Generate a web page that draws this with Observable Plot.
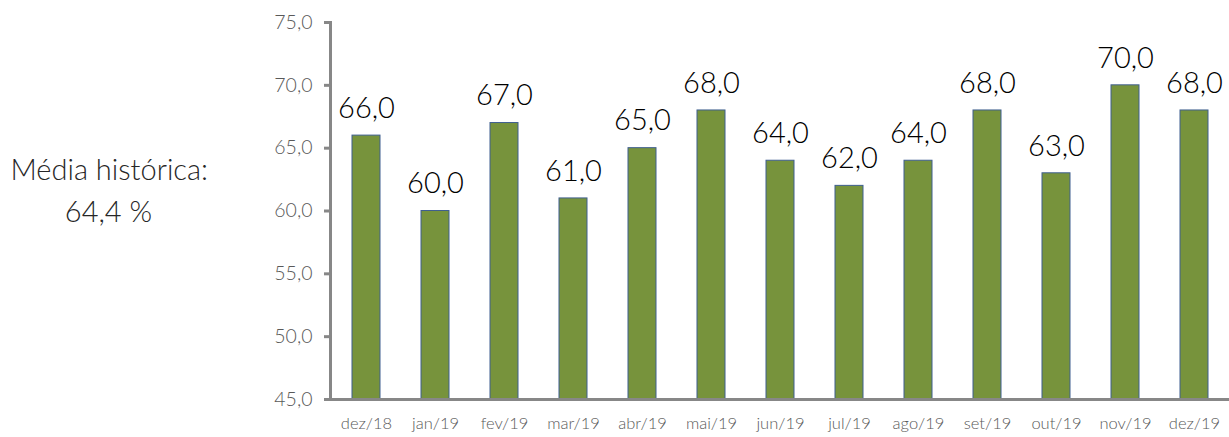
<!DOCTYPE html>
<html><head><meta charset="utf-8">
<script src="https://cdn.jsdelivr.net/npm/d3@7"></script>
<script src="https://cdn.jsdelivr.net/npm/@observablehq/plot@0.6"></script>
<style>
body{margin:0;background:#fff;}
#chart svg{display:block;font-family:Lato,"Open Sans",sans-serif;}
</style></head>
<body><div id="chart"></div>
<script>
const months = ["dez/18","jan/19","fev/19","mar/19","abr/19","mai/19","jun/19","jul/19","ago/19","set/19","out/19","nov/19","dez/19"];
const values = [66,60,67,61,65,68,64,62,64,68,63,70,68];
const yTicks = [45,50,55,60,65,70,75];
const noteLines = ["Média histórica:", "64,4 %"];

const data = months.map((m,i)=>({m, v: values[i]}));
const fmt = d => d.toFixed(1).replace(".", ",");

const plot = Plot.plot({
  width: 1229, height: 437,
  marginLeft: 330, marginRight: 0, marginTop: 22, marginBottom: 38,
  style: {background: "#fff", overflow: "visible"},
  x: {domain: months, paddingInner: 0.6, paddingOuter: 0.3},
  y: {domain: [45, 75]},
  marks: [
    Plot.barY(data, {x: "m", y1: 45, y2: "v", fill: "#77933C", stroke: "#3F5F8F", strokeWidth: 1}),
    Plot.ruleY([45], {stroke: "#878787", strokeWidth: 3}),
    Plot.frame({anchor: "left", stroke: "#878787", strokeWidth: 3}),
    Plot.axisY(yTicks, {tickFormat: fmt, tickSize: 6, tickPadding: 12, stroke: "#878787", strokeWidth: 3, fill: "#595959", fontSize: 19.5, fontWeight: 300, label: null}),
    Plot.axisX({tickSize: 0, tickPadding: 18, fill: "#595959", fontSize: 16.5, fontWeight: 300, label: null}),
    Plot.text(data, {x: "m", y: "v", text: d => fmt(d.v), dy: -27, fontSize: 29, fill: "#000", fontWeight: 300}),
    Plot.text([noteLines[0]], {frameAnchor: "top-left", text: d => d, dx: -320, dy: 137, fontSize: 29, fill: "#262626", fontWeight: 300}),
    Plot.text([noteLines[1]], {frameAnchor: "top-left", text: d => d, dx: -222, dy: 179, textAnchor: "middle", fontSize: 29, fill: "#262626", fontWeight: 300})
  ]
});
document.getElementById("chart").append(plot);
</script>
</body></html>
